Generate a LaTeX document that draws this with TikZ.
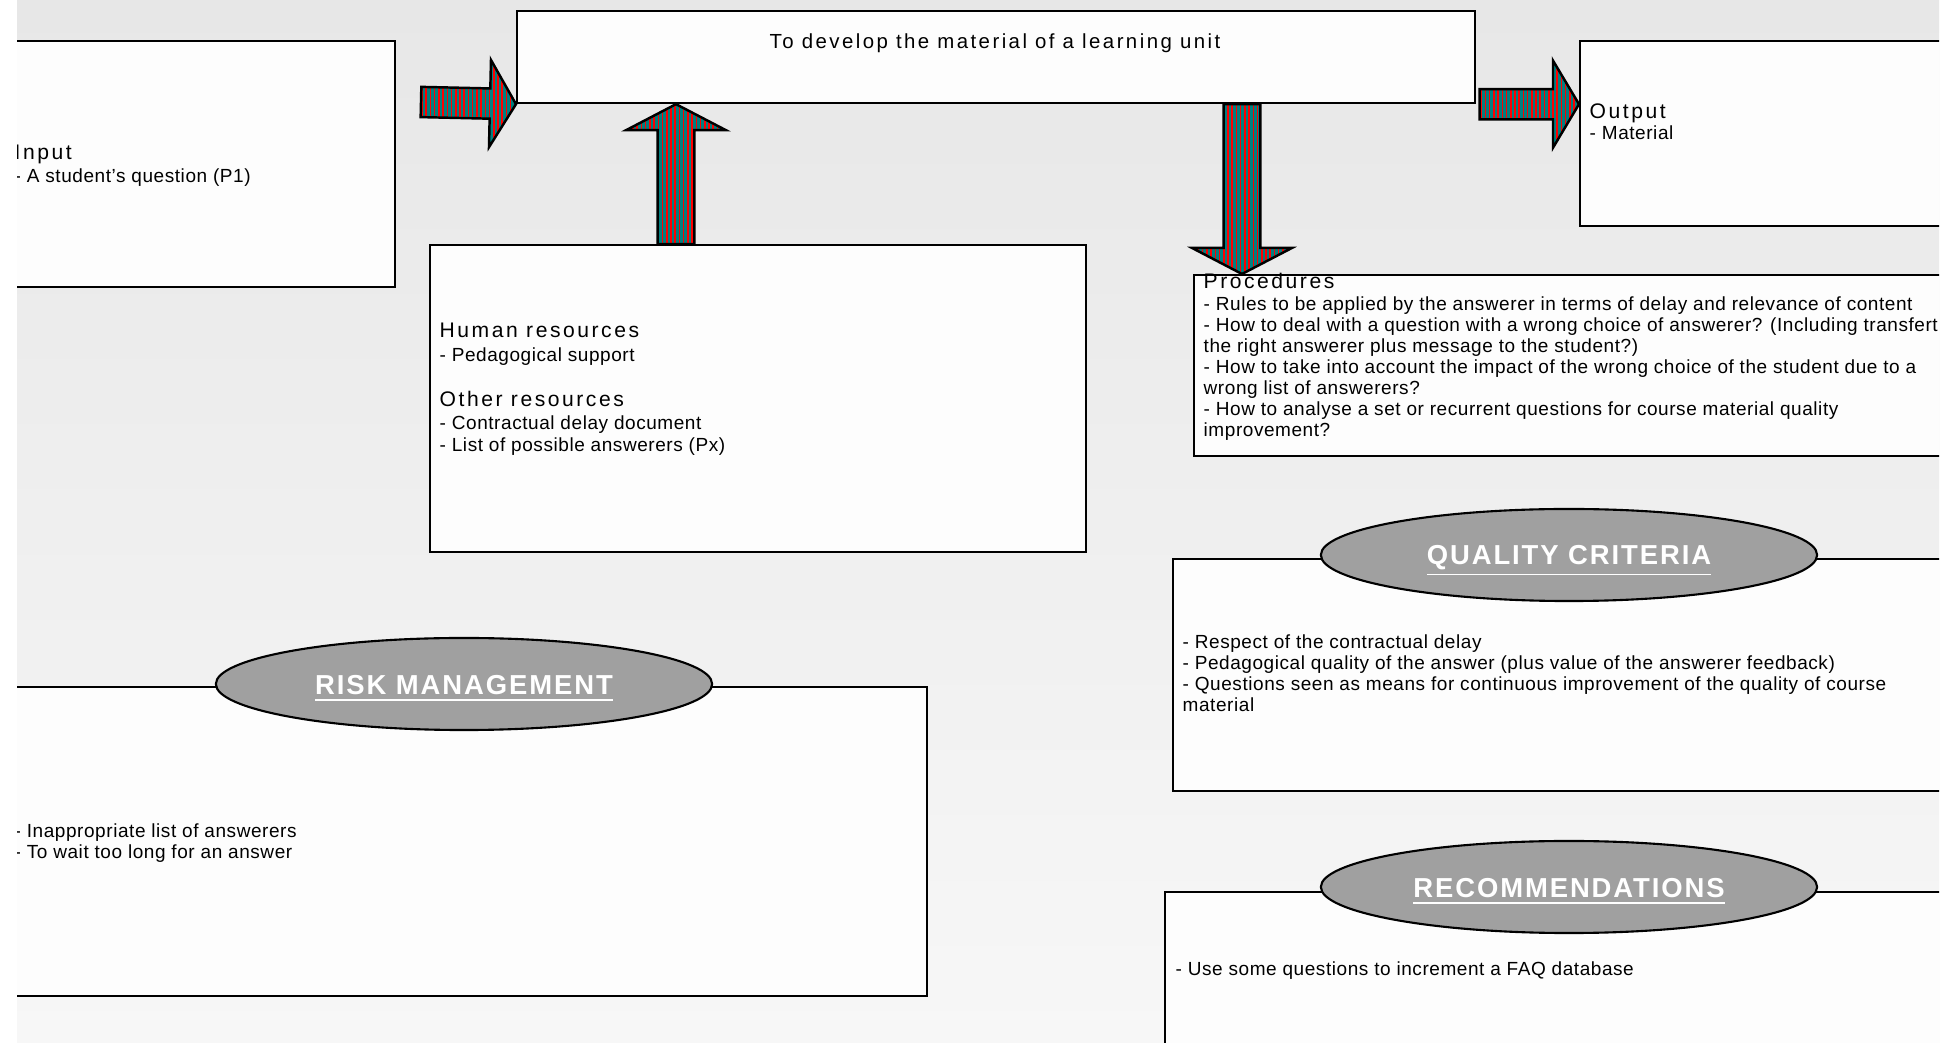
\documentclass[tikz,border=0pt]{standalone}
\usepackage{fontspec}
\setmainfont[LetterSpace=3]{Liberation Sans}
\newfontfamily\headFamily[LetterSpace=12]{Liberation Sans}
\newfontfamily\titleFamily[LetterSpace=12]{Liberation Sans}
\newfontfamily\ovalFamily[LetterSpace=7]{Liberation Sans}
\usetikzlibrary{calc, positioning, shapes.geometric, patterns.meta}

\definecolor{bgTop}{RGB}{231,231,231}
\definecolor{bgBottom}{RGB}{247,247,247}
\definecolor{boxWhite}{RGB}{253,253,253}
\definecolor{ovalGray}{RGB}{160,160,160}
\definecolor{arrowTeal}{RGB}{0,128,128}
\definecolor{arrowRed}{RGB}{255,0,0}

\newcommand{\headTxt}[1]{{\headFamily\fontsize{6}{7}\selectfont #1}}
\newcommand{\ovalTxt}[1]{{\ovalFamily\bfseries\fontsize{7.8}{9}\selectfont\underline{#1}}}
\newcommand{\headLen}{7.4pt}
\newcommand{\fatArrow}[4]{ % args = tail, tip, half shaft width, half head width
	\path[fatarrow] let \p1=(#1), \p2=(#2), \n1={veclen(\x2-\x1,\y2-\y1)}, \n2={(\x2-\x1)/\n1}, \n3={(\y2-\y1)/\n1} in
		({\x1-#3*\n3},{\y1+#3*\n2})
		-- ({\x2-\headLen*\n2-#3*\n3},{\y2-\headLen*\n3+#3*\n2})
		-- ({\x2-\headLen*\n2-#4*\n3},{\y2-\headLen*\n3+#4*\n2})
		-- (\p2)
		-- ({\x2-\headLen*\n2+#4*\n3},{\y2-\headLen*\n3-#4*\n2})
		-- ({\x2-\headLen*\n2+#3*\n3},{\y2-\headLen*\n3-#3*\n2})
		-- ({\x1+#3*\n3},{\y1-#3*\n2}) -- cycle;
}

\begin{document}
\begin{tikzpicture}[x=0.01cm, y=-0.01cm,
	box/.style={draw, fill=boxWhite, line width=0.6pt, inner sep=0pt, anchor=north west},
	oval/.style={ellipse, draw, fill=ovalGray, line width=0.6pt, minimum width=4.96cm, minimum height=0.92cm, inner sep=0pt},
	ovallabel/.style={inner sep=0pt, text=white},
	txt/.style={inner sep=0pt, align=left, anchor=north west, font=\fontsize{5.4}{6.0}\selectfont},
	fatarrow/.style={preaction={fill=arrowTeal}, pattern={Lines[angle=90, distance=1.2pt, line width=0.45pt]}, pattern color=arrowRed, draw=black, line width=0.7pt, line join=miter}]
	\useasboundingbox (0,0) rectangle (1959,1043);
	\fill[white] (0,0) rectangle (1959,1043);
	\begin{scope}
		\clip (17,0) rectangle (1939,1043);
		\shade[top color=bgTop, bottom color=bgBottom] (17,0) rectangle (1939,1043);
		% boxes
		\node[box, minimum width=4.14cm, minimum height=2.46cm] (inBox)  at (-20,40)   {};
		\node[box, minimum width=9.57cm, minimum height=0.92cm] (task)   at (516,10)   {};
		\node[box, minimum width=4.00cm, minimum height=1.85cm] (outBox) at (1579,40)  {};
		\node[box, minimum width=6.56cm, minimum height=3.07cm] (res)    at (429,244)  {};
		\node[box, minimum width=8.00cm, minimum height=1.81cm] (proc)   at (1193,274) {};
		\node[box, minimum width=8.00cm, minimum height=2.32cm] (qual)   at (1172,558) {};
		\node[box, minimum width=9.45cm, minimum height=3.09cm] (risk)   at (-20,686)  {};
		\node[box, minimum width=8.00cm, minimum height=2.00cm] (reco)   at (1164,891) {};
		% texts
		\node[txt, anchor=center, font=\titleFamily\fontsize{5.8}{7}\selectfont] (taskTxt) at (995,43) {To develop the material of a learning unit};
		\node[txt] (inTxt)  at (14,144)   {\headTxt{Input}\\[0.6pt]- A student's question (P1)};
		\node[txt] (outTxt) at (1589,103) {\headTxt{Output}\\- Material};
		\node[txt] (resTxt) at (439,322)  {\headTxt{Human resources}\\[1pt]- Pedagogical support\\[6.6pt]\headTxt{Other resources}\\[0.5pt]- Contractual delay document\\[0.3pt]- List of possible answerers (Px)};
		\node[txt] (procTxt) at (1203,273) {\headTxt{Procedures}\\- Rules to be applied by the answerer in terms of delay and relevance of content\\- How to deal with a question with a wrong choice of answerer? (Including transfert\\the right answerer plus message to the student?)\\- How to take into account the impact of the wrong choice of the student due to a\\wrong list of answerers?\\- How to analyse a set or recurrent questions for course material quality\\improvement?};
		\node[txt] (qualTxt) at (1182,634) {- Respect of the contractual delay\\- Pedagogical quality of the answer (plus value of the answerer feedback)\\- Questions seen as means for continuous improvement of the quality of course\\material};
		\node[txt] (riskTxt) at (14,823)   {- Inappropriate list of answerers\\- To wait too long for an answer};
		\node[txt] (recoTxt) at (1175,961) {- Use some questions to increment a FAQ database};
		% ovals
		\node[oval] (qualOval) at (1569,555) {};
		\node[oval] (riskOval) at (464,684)  {};
		\node[oval] (recoOval) at (1569,887) {};
		\node[ovallabel] (qualLbl) at ($(qualOval.center)+(0,6)$) {\ovalTxt{QUALITY CRITERIA}};
		\node[ovallabel] (riskLbl) at ($(riskOval.center)+(0,5)$) {\ovalTxt{RISK MANAGEMENT}};
		\node[ovallabel] (recoLbl) at ($(recoOval.center)+(0,5)$) {\ovalTxt{RECOMMENDATIONS}};
		% fat arrows
		\coordinate (inTail) at (421,102);
		\coordinate (outTail) at ($(task.south east)+(4,0)$);
		\coordinate (upCol) at (676,0);
		\coordinate (downCol) at (1242,0);
		\fatArrow{inTail}{task.south west}{4.3pt}{12.4pt}
		\fatArrow{outTail}{outBox.west |- task.south east}{4.3pt}{12.4pt}
		\fatArrow{res.north -| upCol}{task.south -| upCol}{5.2pt}{14.2pt}
		\fatArrow{task.south -| downCol}{proc.north -| downCol}{5.2pt}{14.2pt}
	\end{scope}
\end{tikzpicture}
\end{document}
